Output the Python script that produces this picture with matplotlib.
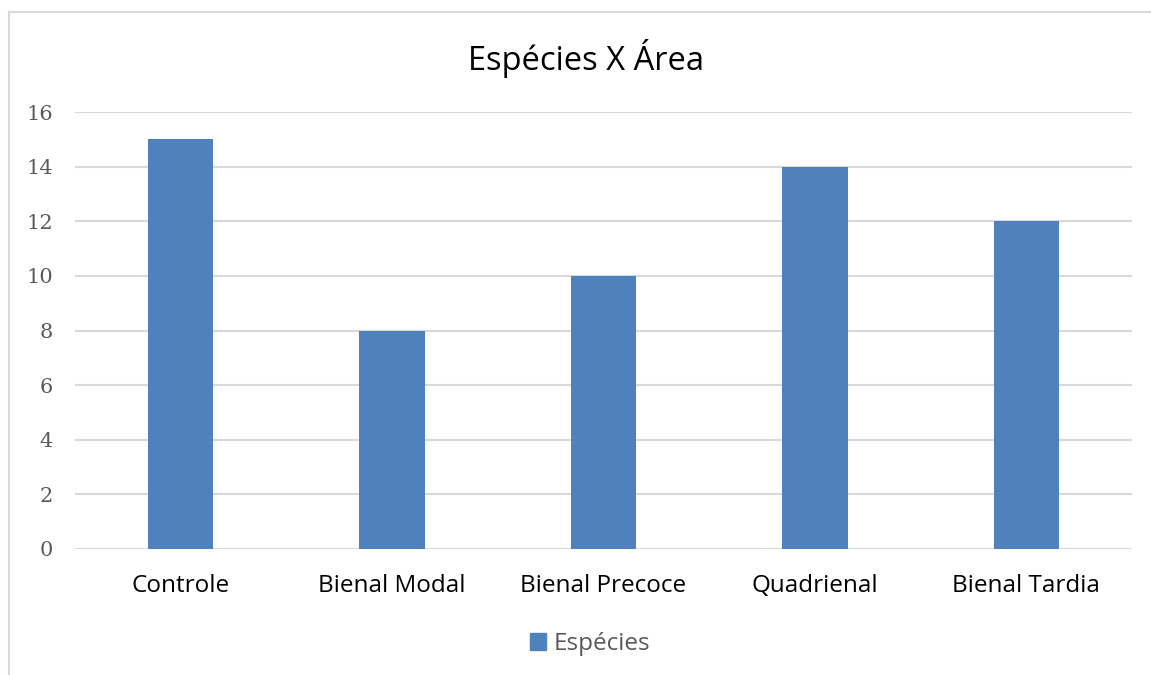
import matplotlib.pyplot as plt
import numpy as np
from matplotlib.lines import Line2D
from matplotlib.patches import Patch

categories = ["Controle", "Bienal Modal", "Bienal Precoce", "Quadrienal", "Bienal Tardia"]
especies = [15, 8, 10, 14, 12]
yticks = [0, 2, 4, 6, 8, 10, 12, 14, 16]

W, H = 1151, 675
fig = plt.figure(figsize=(W / 100, H / 100), dpi=100)
ax = fig.add_axes([75 / W, 1 - 549 / H, (1132 - 75) / W, (549 - 112) / H])

x = np.arange(len(categories))
ax.bar(x, especies, width=0.31, color="#4f81bd", zorder=3)

ax.set_xlim(-0.5, len(categories) - 0.5)
ax.set_ylim(0, 16)
ax.set_yticks(yticks)
ax.set_yticklabels([str(t) for t in yticks], fontfamily="DejaVu Serif", fontsize=15, color="#595959")
ax.set_xticks(x)
ax.set_xticklabels(categories, fontfamily="Open Sans", fontsize=17.5, color="black")
ax.tick_params(axis="both", length=0)
ax.tick_params(axis="y", pad=16)
ax.tick_params(axis="x", pad=18)
ax.grid(axis="y", color="#d9d9d9", linewidth=1.5, zorder=0)
for s in ax.spines.values():
    s.set_visible(False)

fig.text(586 / W, 1 - 58 / H, "Espécies X Área", ha="center", va="center",
         fontfamily="Open Sans", fontsize=23.5, color="black")

fig.legend(handles=[Patch(color="#4f81bd", label="Espécies")],
           loc="center", bbox_to_anchor=(590 / W, 1 - 644 / H), frameon=False,
           prop={"family": "Open Sans", "size": 17.5}, labelcolor="#595959",
           handlelength=0.65, handleheight=0.65, handletextpad=0.3)

# outer chart border (clipped at right and bottom)
fig.add_artist(Line2D([9 / W, 1], [1 - 12 / H, 1 - 12 / H], color="#d9d9d9", linewidth=1.5))
fig.add_artist(Line2D([9 / W, 9 / W], [0, 1 - 12 / H], color="#d9d9d9", linewidth=1.5))

fig.savefig("out.png", dpi=100)
